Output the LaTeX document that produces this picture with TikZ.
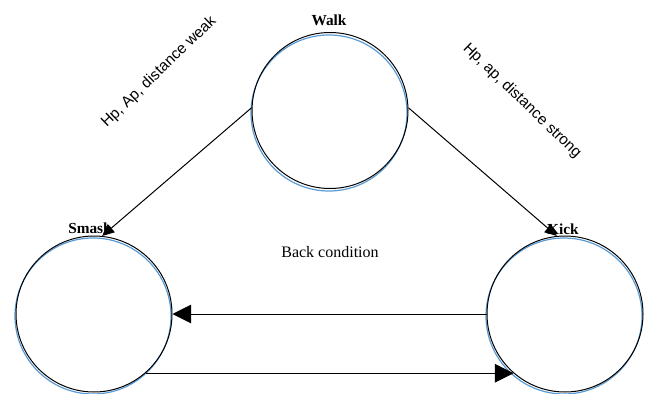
\documentclass[tikz,border=0pt]{standalone}
\usepackage{fontspec}
\setmainfont{Liberation Serif}
\newfontfamily\arialfont{Liberation Sans}
\usetikzlibrary{arrows.meta}
\definecolor{wordblue}{RGB}{91,155,213}
\tikzset{
  state/.style={circle, draw=black, line width=0.75pt, minimum size=117pt, inner sep=0pt},
  ghost/.style={circle, draw=wordblue, line width=0.9pt, minimum size=117pt, inner sep=0pt},
  statelabel/.style={font=\fontsize{11.5}{13}\selectfont\bfseries, inner sep=0pt},
  edgelabel/.style={font=\arialfont\fontsize{11.5}{14}\selectfont, inner sep=0pt},
  conn/.style={line width=0.75pt, -{Triangle[length=14pt,width=14pt]}},
  diag/.style={line width=0.75pt, -{Triangle[length=9pt,width=8pt]}}
}
\begin{document}
\begin{tikzpicture}[x=0.75pt,y=-0.75pt]
\useasboundingbox (0,0) rectangle (650,393);
% blue offset outlines
\node[ghost] (walkg) at (329,113) {};
\node[ghost] (smashg) at (93,316) {};
\node[ghost] (kickg) at (564,316) {};
% states
\node[state] (walk) at (330,110.5) {};
\node[state] (smash) at (94,314) {};
\node[state] (kick) at (565,314) {};
% state labels
\node[statelabel] (walkl) at (329,20) {Walk};
\node[statelabel] (smashl) at (90,228) {Smash};
\node[statelabel] (kickl) at (563,229) {Kick};
% connectors
\draw[diag] (walk.178) -- (smash.84);
\draw[diag] (walk.2) -- (kick.96);
\draw[conn] (kick.west) -- (smash.east);
\draw[conn] (smash.-49) -- (kick.229);
% labels
\node[edgelabel, rotate=44] (weak) at (159,72) {Hp, Ap, distance weak};
\node[edgelabel, rotate=-44] (strong) at (522,101) {Hp, ap, distance strong};
\node[font=\fontsize{12}{14}\selectfont, inner sep=0pt] (back) at (330,252) {Back condition};
\end{tikzpicture}
\end{document}
